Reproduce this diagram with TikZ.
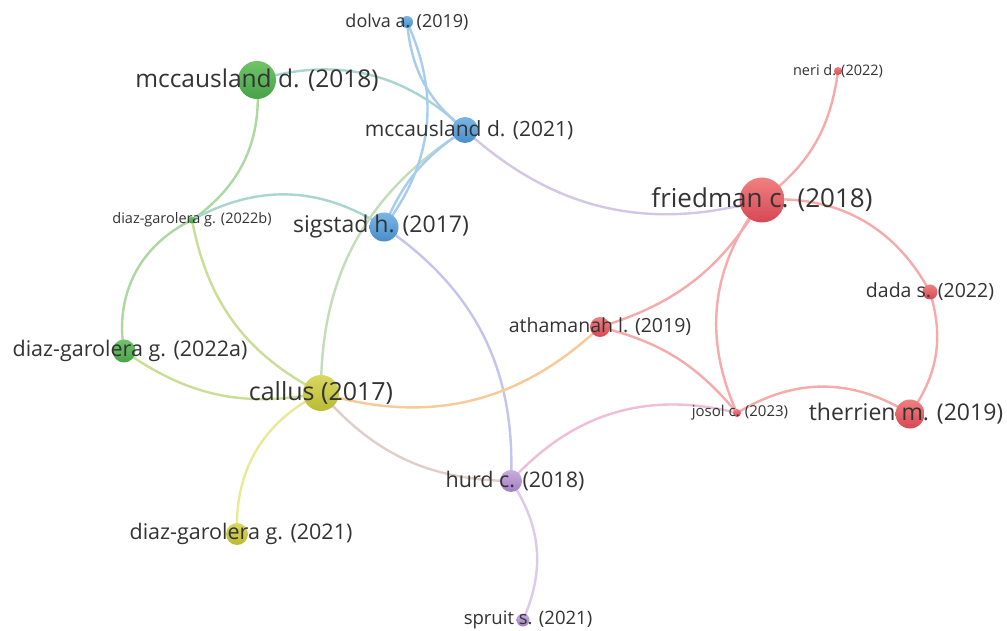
\documentclass[tikz,border=0pt]{standalone}
\usepackage{fontspec}
\setmainfont{Open Sans}
\usepackage{tikz}

\definecolor{inkgray}{RGB}{51,51,51}
\definecolor{redtop}{RGB}{240,128,128}
\definecolor{redbot}{RGB}{214,72,84}
\definecolor{greentop}{RGB}{112,196,106}
\definecolor{greenbot}{RGB}{72,162,72}
\definecolor{bluetop}{RGB}{122,182,230}
\definecolor{bluebot}{RGB}{72,142,202}
\definecolor{yellowtop}{RGB}{216,216,98}
\definecolor{yellowbot}{RGB}{186,186,52}
\definecolor{purpletop}{RGB}{198,172,222}
\definecolor{purplebot}{RGB}{162,128,192}
\definecolor{linkred}{RGB}{246,170,170}
\definecolor{linkgreen}{RGB}{172,216,162}
\definecolor{linkblue}{RGB}{166,205,240}
\definecolor{linkyellow}{RGB}{233,233,152}
\definecolor{linkpurple}{RGB}{222,200,235}
\definecolor{linkgb}{RGB}{168,214,206}
\definecolor{linkbr}{RGB}{212,198,230}
\definecolor{linkgy}{RGB}{202,222,152}
\definecolor{linkby}{RGB}{196,220,186}
\definecolor{linkbp}{RGB}{196,196,238}
\definecolor{linkyr}{RGB}{248,202,152}
\definecolor{linkyp}{RGB}{226,206,200}
\definecolor{linkpr}{RGB}{238,190,216}

\newcommand{\fsz}[1]{\fontsize{#1}{#1}\selectfont}

\pgfdeclarelayer{links}
\pgfsetlayers{links,main}

\tikzset{
  pub/.style={circle, inner sep=0pt},
  redpub/.style={pub, top color=redtop, bottom color=redbot},
  greenpub/.style={pub, top color=greentop, bottom color=greenbot},
  bluepub/.style={pub, top color=bluetop, bottom color=bluebot},
  yellowpub/.style={pub, top color=yellowtop, bottom color=yellowbot},
  purplepub/.style={pub, top color=purpletop, bottom color=purplebot},
  lbl/.style={text=inkgray, inner sep=0pt},
  link/.style={line width=2.4pt},
}

\begin{document}
\begin{tikzpicture}[x=1pt, y=1pt]
    \useasboundingbox (0,0) rectangle (1007,630);

    % Publications
    \node[greenpub, minimum size=38] (mcc18) at (257,550) {};
    \node[bluepub, minimum size=12] (dolva) at (407,608) {};
    \node[bluepub, minimum size=26] (mcc21) at (465,500) {};
    \node[redpub, minimum size=8] (neri) at (838,559) {};
    \node[redpub, minimum size=45] (fri) at (762,430) {};
    \node[greenpub, minimum size=7] (dg22b) at (192,410) {};
    \node[bluepub, minimum size=29] (sig) at (384,403) {};
    \node[redpub, minimum size=15] (dada) at (930,338) {};
    \node[redpub, minimum size=20] (ath) at (600,303) {};
    \node[greenpub, minimum size=23] (dg22a) at (124,279) {};
    \node[yellowpub, minimum size=36] (callus) at (321,237) {};
    \node[redpub, minimum size=8] (josol) at (737,217) {};
    \node[redpub, minimum size=29] (ther) at (910,216) {};
    \node[purplepub, minimum size=22] (hurd) at (511,149) {};
    \node[yellowpub, minimum size=22] (dg21) at (237,96) {};
    \node[purplepub, minimum size=13] (spruit) at (523,10) {};

    % Labels
    \node[lbl, font=\fsz{18}] (dolva-l) at (dolva) {dolva a. (2019)};
    \node[lbl, font=\fsz{24.5}] (mcc18-l) at (mcc18) {mccausland d. (2018)};
    \node[lbl, font=\fsz{21}, xshift=4] (mcc21-l) at (mcc21) {mccausland d. (2021)};
    \node[lbl, font=\fsz{14.5}] (neri-l) at (neri) {neri d. (2022)};
    \node[lbl, font=\fsz{26}] (fri-l) at (fri) {friedman c. (2018)};
    \node[lbl, font=\fsz{14.5}] (dg22b-l) at (dg22b) {diaz-garolera g. (2022b)};
    \node[lbl, font=\fsz{23}, xshift=-3] (sig-l) at (sig) {sigstad h. (2017)};
    \node[lbl, font=\fsz{19.5}] (dada-l) at (dada) {dada s. (2022)};
    \node[lbl, font=\fsz{19.5}] (ath-l) at (ath) {athamanah l. (2019)};
    \node[lbl, font=\fsz{21.5}, xshift=6] (dg22a-l) at (dg22a) {diaz-garolera g. (2022a)};
    \node[lbl, font=\fsz{25}] (callus-l) at (callus) {callus (2017)};
    \node[lbl, font=\fsz{15}, xshift=3] (josol-l) at (josol) {josol c. (2023)};
    \node[lbl, font=\fsz{23}, xshift=-4] (ther-l) at (ther) {therrien m. (2019)};
    \node[lbl, font=\fsz{21.5}, xshift=4] (hurd-l) at (hurd) {hurd c. (2018)};
    \node[lbl, font=\fsz{21.5}, xshift=4] (dg21-l) at (dg21) {diaz-garolera g. (2021)};
    \node[lbl, font=\fsz{18.5}, xshift=5] (spruit-l) at (spruit) {spruit s. (2021)};

    \begin{pgfonlayer}{links}
    \fill[white] (0,0) rectangle (1007,630);
    % Citation links
    \draw[link, linkgb] (mcc18.center) to[bend left=30] (mcc21.center);
    \draw[link, linkgreen] (mcc18.center) to[bend left=30] (dg22b.center);
    \draw[link, linkgreen] (dg22b.center) to[bend right=37] (dg22a.center);
    \draw[link, linkgy] (dg22b.center) to[bend right=26] (callus.center);
    \draw[link, linkgb] (dg22b.center) to[bend left=31] (sig.center);
    \draw[link, linkgy] (dg22a.center) to[bend right=23] (callus.center);
    \draw[link, linkby] (callus.center) to[bend left=29] (mcc21.center);
    \draw[link, linkbp] (sig.center) to[bend left=29] (hurd.center);
    \draw[link, linkyr] (callus.center) to[bend right=30] (ath.center);
    \draw[link, linkred] (ath.center) to[bend right=21] (fri.center);
    \draw[link, linkyp] (callus.center) to[bend right=24] (hurd.center);
    \draw[link, linkyellow] (callus.center) to[bend right=33] (dg21.center);
    \draw[link, linkpurple] (hurd.center) to[bend left=29] (spruit.center);
    \draw[link, linkpr] (hurd.center) to[bend left=31] (josol.center);
    \draw[link, linkred] (ath.center) to[bend left=18] (josol.center);
    \draw[link, linkred] (fri.center) to[bend right=31] (josol.center);
    \draw[link, linkred] (josol.center) to[bend left=32] (ther.center);
    \draw[link, linkred] (fri.center) to[bend right=23] (neri.center);
    \draw[link, linkred] (fri.center) to[bend left=33] (dada.center);
    \draw[link, linkred] (dada.center) to[bend left=26] (ther.center);
    \draw[link, linkbr] (mcc21.center) to[bend right=29] (fri.center);
    \draw[link, linkblue] (dolva.center) to[bend right=23] (mcc21.center);
    \draw[link, linkblue] (dolva.center) to[bend left=31] (sig.center);
    \draw[link, linkblue] (sig.center) to[bend left=17] (mcc21.center);
    \end{pgfonlayer}
\end{tikzpicture}
\end{document}
